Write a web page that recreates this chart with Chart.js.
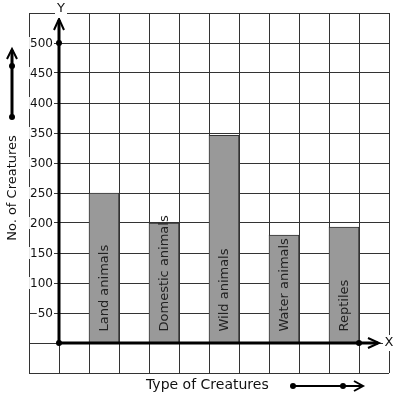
<!DOCTYPE html>
<html>
<head>
<meta charset="utf-8">
<script src="https://cdn.jsdelivr.net/npm/chart.js@4"></script>
<style>
  html, body { margin: 0; padding: 0; background: #fff; }
  #grafico { display: block; }
</style>
</head>
<body>
<canvas id="grafico" width="397" height="399"></canvas>
<script>
// dados do gráfico
const categories = ['Land animals', 'Domestic animals', 'Wild animals', 'Water animals', 'Reptiles'];
const creatureCounts = [250, 200, 346, 180, 193];
const yTickLabels = [50, 100, 150, 200, 250, 300, 350, 400, 450, 500];
const xTitle = 'Type of Creatures';
const yTitle = 'No. of Creatures';

const FONT = '"DejaVu Sans", sans-serif';
const INK = '#111';

// each category sits in every second grid cell, starting at the second cell right of the y axis
const barData = creatureCounts.map((v, i) => ({ x: 1.5 + 2 * i, y: v }));

function chevron(ctx, x, y, dir, len, half) {
  ctx.beginPath();
  if (dir === 'up') {
    ctx.moveTo(x - half, y + len);
    ctx.lineTo(x, y);
    ctx.lineTo(x + half, y + len);
  } else {
    ctx.moveTo(x - len, y - half);
    ctx.lineTo(x, y);
    ctx.lineTo(x - len, y + half);
  }
  ctx.stroke();
}

function dot(ctx, x, y, r) {
  ctx.beginPath();
  ctx.arc(x, y, r, 0, Math.PI * 2);
  ctx.fill();
}

const decoracao = {
  id: 'decoracao',
  afterDatasetsDraw(chart) {
    const ctx = chart.ctx;
    const sx = chart.scales.x, sy = chart.scales.y;
    const x0 = Math.round(sx.getPixelForValue(0));
    const y0 = Math.round(sy.getPixelForValue(0));
    const area = chart.chartArea;

    ctx.save();

    // y tick labels with white backdrop
    ctx.font = '12px ' + FONT;
    ctx.textAlign = 'right';
    ctx.textBaseline = 'middle';
    yTickLabels.forEach(v => {
      const py = sy.getPixelForValue(v);
      const w = ctx.measureText(String(v)).width;
      ctx.fillStyle = '#fff';
      ctx.fillRect(x0 - 6 - w - 1, py - 6, w + 2, 12);
      ctx.fillStyle = INK;
      ctx.fillText(String(v), x0 - 6, py + 0.5);
    });

    // labels inside bars
    const meta = chart.getDatasetMeta(0);
    ctx.font = '13px ' + FONT;
    ctx.fillStyle = '#222';
    ctx.textAlign = 'left';
    ctx.textBaseline = 'middle';
    meta.data.forEach((bar, i) => {
      ctx.save();
      ctx.translate(bar.x + 1, bar.base - 11);
      ctx.rotate(-Math.PI / 2);
      ctx.fillText(categories[i], 0, 0);
      ctx.restore();
    });

    // heavy axes
    ctx.strokeStyle = '#000';
    ctx.fillStyle = '#000';
    ctx.lineWidth = 3;
    ctx.lineCap = 'butt';
    const yTop = area.top + 7;
    const xEnd = area.right - 11;
    ctx.beginPath();
    ctx.moveTo(x0, y0);
    ctx.lineTo(x0, yTop);
    ctx.moveTo(x0, y0);
    ctx.lineTo(xEnd, y0);
    ctx.stroke();
    ctx.lineWidth = 2;
    chevron(ctx, x0, yTop - 1, 'up', 11, 5);
    chevron(ctx, xEnd + 1, y0, 'right', 11, 5);
    dot(ctx, x0, y0, 3);
    dot(ctx, x0, sy.getPixelForValue(500), 3);
    dot(ctx, sx.getPixelForValue(10), y0, 3);

    // axis letters
    ctx.font = '13px ' + FONT;
    ctx.textAlign = 'center';
    ctx.textBaseline = 'middle';
    ctx.fillStyle = '#fff';
    ctx.fillRect(x0 - 4, 2, 12, 16);
    ctx.fillRect(area.right - 6, y0 - 8, 11, 16);
    ctx.fillStyle = INK;
    ctx.fillText('Y', x0 + 2, 9);
    ctx.fillText('X', area.right, y0);

    // titles
    ctx.font = '13px ' + FONT;
    ctx.save();
    ctx.translate(13, 188);
    ctx.rotate(-Math.PI / 2);
    ctx.fillText(yTitle, 0, 0);
    ctx.restore();
    ctx.font = '14px ' + FONT;
    ctx.textAlign = 'left';
    ctx.fillText(xTitle, 146, 385);

    // decorative arrows next to the titles
    ctx.strokeStyle = '#000';
    ctx.fillStyle = '#000';
    ctx.lineWidth = 3;
    ctx.beginPath();
    ctx.moveTo(12, 117);
    ctx.lineTo(12, 50);
    ctx.stroke();
    ctx.lineWidth = 2;
    chevron(ctx, 12, 49, 'up', 10, 5);
    dot(ctx, 12, 117, 3);
    dot(ctx, 12, 66, 3);

    ctx.lineWidth = 2;
    ctx.beginPath();
    ctx.moveTo(293, 386);
    ctx.lineTo(362, 386);
    ctx.stroke();
    chevron(ctx, 363, 386, 'right', 9, 5);
    dot(ctx, 293, 386, 3);
    dot(ctx, 343, 386, 3);

    ctx.restore();
  }
};

const ctx = document.getElementById('grafico').getContext('2d');
const chart = new Chart(ctx, {
  type: 'bar',
  data: {
    datasets: [{
      data: barData,
      backgroundColor: '#999999',
      borderColor: '#333',
      borderWidth: 1,
      categoryPercentage: 1,
      barPercentage: 1
    }]
  },
  options: {
    responsive: false,
    animation: false,
    events: [],
    layout: { padding: { left: 29, top: 13, right: 8, bottom: 26 } },
    scales: {
      x: {
        type: 'linear',
        min: -1,
        max: 11,
        offset: false,
        ticks: { display: false, stepSize: 1 },
        grid: { color: '#333', lineWidth: 1, drawTicks: false, offset: false },
        border: { display: false }
      },
      y: {
        type: 'linear',
        min: -50,
        max: 550,
        ticks: { display: false, stepSize: 50 },
        grid: { color: '#333', lineWidth: 1, drawTicks: false },
        border: { display: false }
      }
    },
    plugins: {
      legend: { display: false },
      tooltip: { enabled: false }
    }
  },
  plugins: [decoracao]
});
</script>
</body>
</html>
